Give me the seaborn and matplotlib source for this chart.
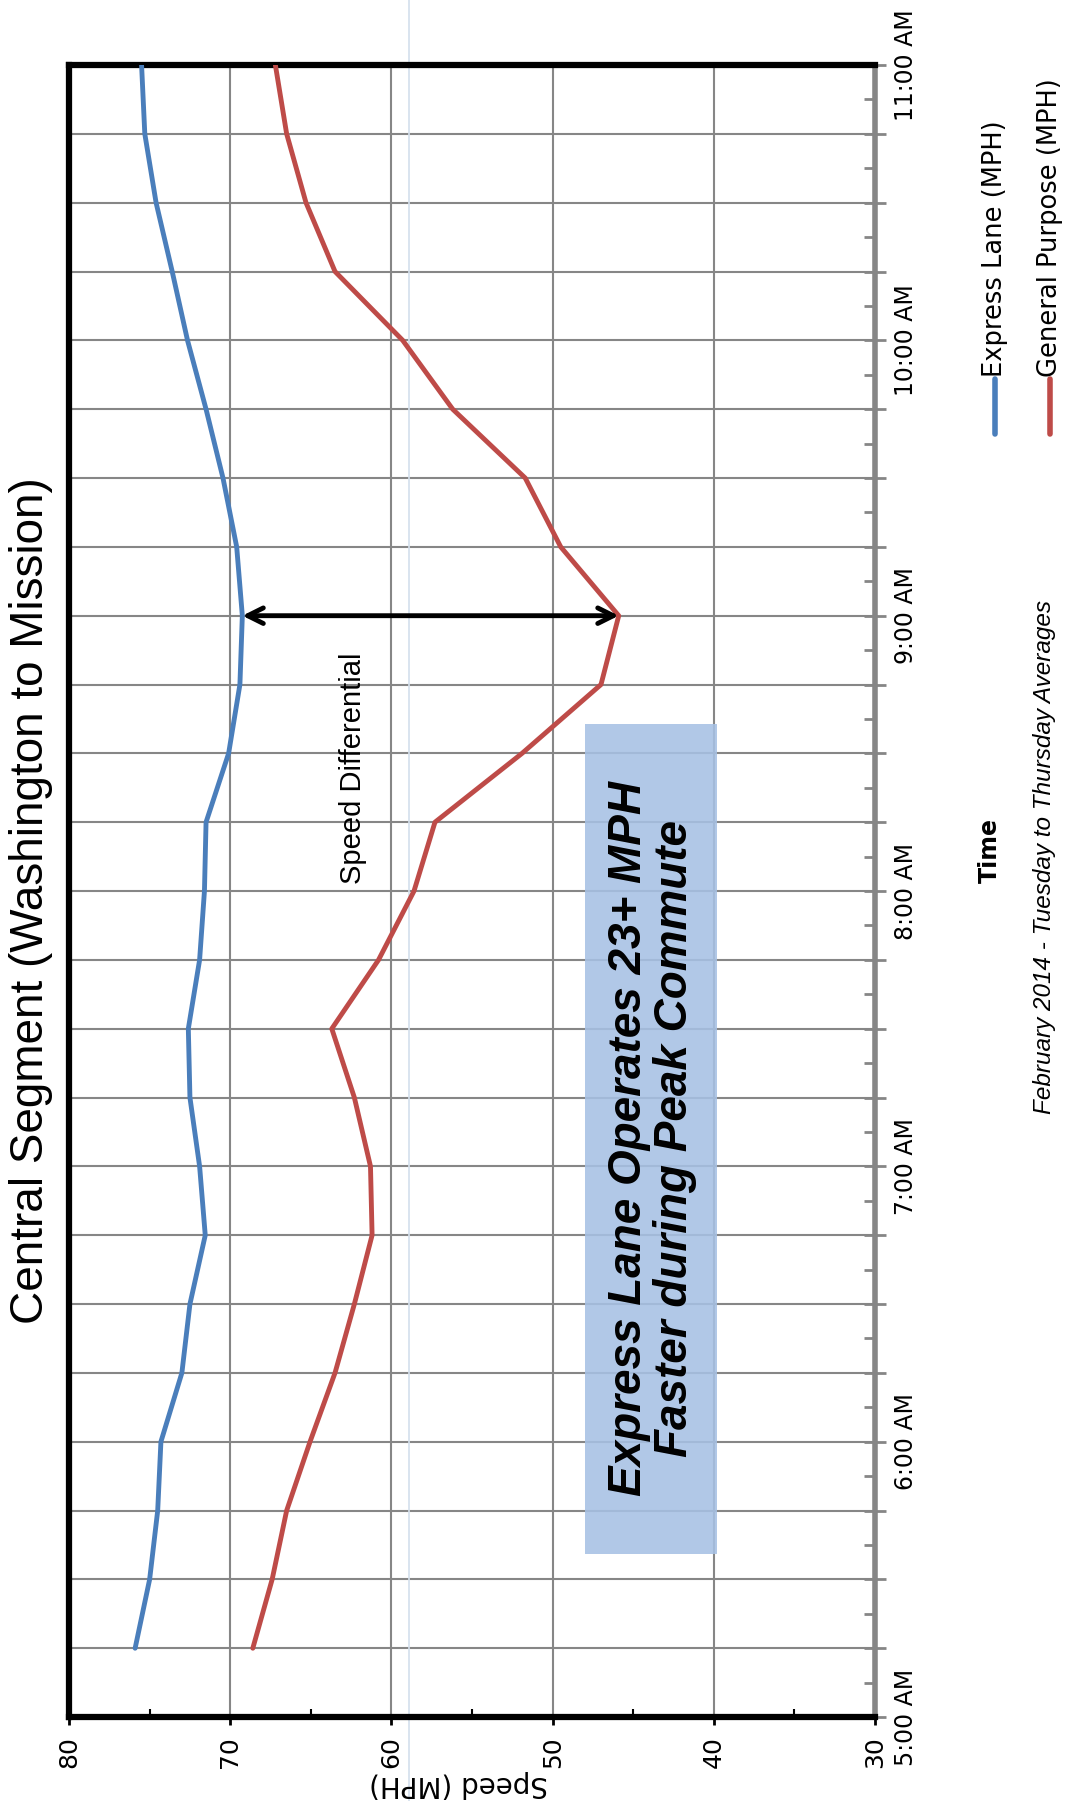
import numpy as np
import pandas as pd
import matplotlib
matplotlib.use('Agg')
import matplotlib.pyplot as plt
import seaborn as sns
from matplotlib.patches import Rectangle
from matplotlib.lines import Line2D
from matplotlib.ticker import MultipleLocator


# data (15 minute averages)

times = ["5:15", "5:30", "5:45", "6:00", "6:15", "6:30", "6:45", "7:00",
         "7:15", "7:30", "7:45", "8:00", "8:15", "8:30", "8:45", "9:00",
         "9:15", "9:30", "9:45", "10:00", "10:15", "10:30", "10:45", "11:00"]
express = [75.9, 75.0, 74.5, 74.3, 73.0, 72.5, 71.55, 71.9, 72.5, 72.6, 71.9, 71.6,
           71.5, 70.1, 69.4, 69.25, 69.6, 70.45, 71.5, 72.65, 73.6, 74.6, 75.3, 75.5]
general = [68.6, 67.4, 66.5, 65.05, 63.5, 62.3, 61.2, 61.3, 62.3, 63.7, 60.8, 58.6,
           57.3, 51.9, 47.0, 45.9, 49.5, 51.7, 56.2, 59.3, 63.5, 65.3, 66.5, 67.2]
series_names = ["Express Lane (MPH)", "General Purpose (MPH)"]
colors = ["#4a7ebb", "#be4b48"]

speed_ticks = [80, 70, 60, 50, 40, 30]
hour_labels = ["5:00 AM", "6:00 AM", "7:00 AM", "8:00 AM", "9:00 AM", "10:00 AM", "11:00 AM"]

hours = [int(t.split(":")[0]) + int(t.split(":")[1]) / 60 for t in times]

df = pd.DataFrame({
    "hour": hours * 2,
    "speed": express + general,
    "series": [series_names[0]] * len(hours) + [series_names[1]] * len(hours),
})


# figure setup (chart is drawn turned on its side)

sns.set_theme(style="white")
plt.rcParams['font.family'] = ['DejaVu Sans']
plt.rcParams['text.color'] = 'black'
plt.rcParams['xtick.color'] = 'black'
plt.rcParams['ytick.color'] = 'black'
plt.rcParams['axes.labelcolor'] = 'black'

fig = plt.figure(figsize=(10.67, 18.01), dpi=100)
ax = fig.add_axes([0.0647, 0.0466, 0.8201 - 0.0647, 0.9639 - 0.0466])

sns.lineplot(data=df, x="speed", y="hour", hue="series", palette=colors,
             sort=False, estimator=None, lw=3.5, legend=False, ax=ax, zorder=4)

ax.set_xlim(80, 30)
ax.set_ylim(5, 11)
ax.set_xlabel("")
ax.set_ylabel("")

# speed axis
ax.set_xticks(speed_ticks)
ax.set_xticklabels([str(s) for s in speed_ticks], rotation=90, fontsize=18)
ax.xaxis.set_minor_locator(MultipleLocator(5))
ax.tick_params(axis='x', which='major', direction='out', length=6, width=2,
               color='black', labelcolor='black', pad=8, bottom=True)
ax.tick_params(axis='x', which='minor', direction='in', length=6, width=1.5,
               color='black', bottom=True)

# time axis on the right
ax.yaxis.tick_right()
ax.yaxis.set_major_locator(MultipleLocator(0.25))
ax.yaxis.set_minor_locator(MultipleLocator(0.125))
ylabs = []
for v in np.arange(5, 11.01, 0.25):
    if abs(v - round(v)) < 1e-6:
        ylabs.append(hour_labels[int(round(v)) - 5])
    else:
        ylabs.append("")
ax.set_yticks(np.arange(5, 11.01, 0.25))
ax.set_yticklabels(ylabs, rotation=90, va='center', fontsize=17)
ax.tick_params(axis='y', which='major', direction='inout', length=16, width=2,
               color='#868686', labelcolor='black', pad=6, right=True, left=False)
ax.tick_params(axis='y', which='minor', direction='in', length=8, width=2,
               color='#868686', right=True, left=False)

ax.grid(True, which='major', color='#868686', lw=1.5, zorder=0)
ax.set_axisbelow(True)

for side in ['left', 'top', 'bottom']:
    ax.spines[side].set_color('black')
    ax.spines[side].set_linewidth(4.5)
ax.spines['right'].set_color('#868686')
ax.spines['right'].set_linewidth(4)

# faint vertical guide line
ax.axvline(58.9, ymin=-0.051, ymax=1.04, clip_on=False, color='#d3dfec', lw=1.2, zorder=1)

# annotation box
ax.add_patch(Rectangle((39.8, 5.593), 8.2, 3.014, facecolor='#a6c1e4', edgecolor='none',
                       alpha=0.88, zorder=3))
ax.text(43.85, (5.593 + 8.607) / 2, "Express Lane Operates 23+ MPH\nFaster during Peak Commute",
        rotation=90, ha='center', va='center', multialignment='center', linespacing=1.05,
        fontsize=33, fontweight='bold', fontstyle='italic', family='Liberation Sans',
        color='black', zorder=5)

# speed differential arrow at 9:00
i9 = times.index("9:00")
ax.annotate("", xy=(express[i9], hours[i9]), xytext=(general[i9], hours[i9]),
            arrowprops=dict(arrowstyle='<->', lw=3.5, color='black', mutation_scale=28,
                            shrinkA=0, shrinkB=0), zorder=6)
ax.text(62.4, 8.445, "Speed Differential", rotation=90, ha='center', va='center',
        fontsize=21, family='Liberation Sans', zorder=5)

# titles and labels
fig.text(0.029, 0.4997, "Central Segment (Washington to Mission)", rotation=90,
         ha='center', va='center', fontsize=33, family='Liberation Sans')
fig.text(0.430, 0.0094, "Speed (MPH)", rotation=180, ha='center', va='center', fontsize=20)
fig.text(0.928, 0.528, "Time", rotation=90, ha='center', va='center', fontsize=17,
         fontweight='bold')
fig.text(0.979, 0.524, "February 2014 - Tuesday to Thursday Averages", rotation=90,
         ha='center', va='center', fontsize=17.5, fontstyle='italic', family='Liberation Sans')

# legend, drawn sideways
for k, (name, c) in enumerate(zip(series_names, colors)):
    xf = 0.9325 + k * 0.0515
    fig.add_artist(Line2D([xf, xf], [0.759, 0.7896], color=c, lw=4,
                          solid_capstyle='round', transform=fig.transFigure))
    fig.text(xf, 0.7905, name, rotation=90, ha='center', va='bottom', fontsize=18.5)

fig.savefig("out.png", dpi=100)
